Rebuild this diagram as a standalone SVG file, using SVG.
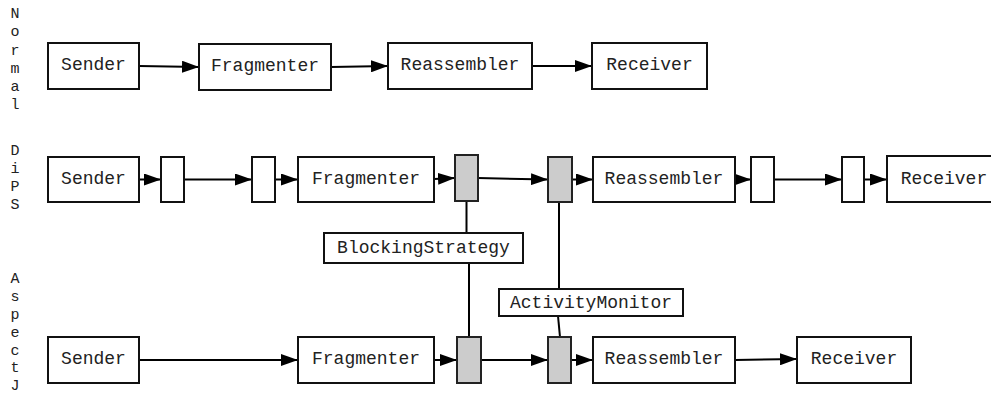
<svg xmlns="http://www.w3.org/2000/svg" width="991" height="394" viewBox="0 0 991 394">
<style>
  .box { fill: #ffffff; stroke: #111111; stroke-width: 2; }
  .gray { fill: #cccccc; stroke: #222222; stroke-width: 2; }
  .lbl { font-family: "Liberation Mono", "Courier New", monospace; font-size: 18px; fill: #222222; text-anchor: middle; }
  .side { font-family: "Liberation Mono", "Courier New", monospace; font-size: 15px; fill: #222222; text-anchor: middle; }
  .edge { stroke: #000000; stroke-width: 2; fill: none; }
  .arrow { marker-end: url(#ah); }
</style>
<defs>
  <marker id="ah" viewBox="0 0 17 12" refX="17" refY="6" markerWidth="17" markerHeight="12" markerUnits="userSpaceOnUse" orient="auto">
    <path d="M0,0 L17,6 L0,12 Z" fill="#000000"/>
  </marker>
</defs>
<rect width="991" height="394" fill="#ffffff"/>

<g id="side-labels">
  <text class="side" x="15" y="18">N</text>
  <text class="side" x="15" y="36">o</text>
  <text class="side" x="15" y="54.5">r</text>
  <text class="side" x="15" y="72.5">m</text>
  <text class="side" x="15" y="91">a</text>
  <text class="side" x="15" y="109">l</text>
  <text class="side" x="15" y="155">D</text>
  <text class="side" x="15" y="173">i</text>
  <text class="side" x="15" y="191">P</text>
  <text class="side" x="15" y="209">S</text>
  <text class="side" x="15" y="283">A</text>
  <text class="side" x="15" y="301">s</text>
  <text class="side" x="15" y="318.5">p</text>
  <text class="side" x="15" y="336.5">e</text>
  <text class="side" x="15" y="354.5">c</text>
  <text class="side" x="15" y="372">t</text>
  <text class="side" x="15" y="390">J</text>
</g>

<g id="connectors">
  <!-- Normal -->
  <line class="edge arrow" x1="139" y1="66" x2="199" y2="67"/>
  <line class="edge arrow" x1="331" y1="67" x2="388" y2="66"/>
  <line class="edge arrow" x1="532" y1="66" x2="592" y2="66"/>
  <!-- DiPS -->
  <line class="edge arrow" x1="139" y1="179.5" x2="161" y2="179.5"/>
  <line class="edge arrow" x1="184" y1="179.5" x2="252" y2="179.5"/>
  <line class="edge arrow" x1="275" y1="179.5" x2="298" y2="179.5"/>
  <line class="edge arrow" x1="434" y1="179" x2="455" y2="178"/>
  <line class="edge arrow" x1="478" y1="178" x2="548" y2="179.5"/>
  <line class="edge arrow" x1="572" y1="179.5" x2="593" y2="179.5"/>
  <line class="edge arrow" x1="735" y1="179.5" x2="751" y2="179.5"/>
  <line class="edge arrow" x1="774" y1="179.5" x2="842" y2="179.5"/>
  <line class="edge arrow" x1="864" y1="179.5" x2="887" y2="179.5"/>
  <!-- AspectJ -->
  <line class="edge arrow" x1="139" y1="360" x2="298" y2="360"/>
  <line class="edge arrow" x1="434" y1="360" x2="457" y2="360"/>
  <line class="edge arrow" x1="481" y1="360" x2="548" y2="360"/>
  <line class="edge arrow" x1="571" y1="360" x2="593" y2="360"/>
  <line class="edge arrow" x1="735" y1="360" x2="797" y2="359"/>
  <!-- vertical links -->
  <line class="edge" x1="466.5" y1="201" x2="466.5" y2="233"/>
  <line class="edge" x1="469" y1="263" x2="469" y2="337"/>
  <line class="edge" x1="559" y1="202" x2="559" y2="289"/>
  <line class="edge" x1="558" y1="316" x2="560" y2="337"/>
</g>

<!-- Row 1: Normal -->
<g id="n-sender"><rect class="box" x="48" y="43" width="91" height="46"/><text class="lbl" x="93.5" y="70">Sender</text></g>
<g id="n-fragmenter"><rect class="box" x="199" y="44" width="132" height="46"/><text class="lbl" x="265" y="71">Fragmenter</text></g>
<g id="n-reassembler"><rect class="box" x="388" y="43" width="144" height="46"/><text class="lbl" x="460" y="70">Reassembler</text></g>
<g id="n-receiver"><rect class="box" x="592" y="43" width="115" height="46"/><text class="lbl" x="649.5" y="70">Receiver</text></g>

<!-- Row 2: DiPS -->
<g id="d-sender"><rect class="box" x="48" y="157" width="91" height="45"/><text class="lbl" x="93.5" y="183.5">Sender</text></g>
<g id="d-small1"><rect class="box" x="161" y="157" width="23" height="45"/></g>
<g id="d-small2"><rect class="box" x="252" y="157" width="23" height="45"/></g>
<g id="d-fragmenter"><rect class="box" x="298" y="157" width="136" height="45"/><text class="lbl" x="366" y="183.5">Fragmenter</text></g>
<g id="d-gray1"><rect class="gray" x="455" y="155" width="23" height="46"/></g>
<g id="d-gray2"><rect class="gray" x="548" y="157" width="24" height="45"/></g>
<g id="d-reassembler"><rect class="box" x="593" y="157" width="142" height="45"/><text class="lbl" x="664" y="183.5">Reassembler</text></g>
<g id="d-small3"><rect class="box" x="751" y="157" width="23" height="45"/></g>
<g id="d-small4"><rect class="box" x="842" y="157" width="22" height="45"/></g>
<g id="d-receiver"><rect class="box" x="887" y="156" width="115" height="46"/><text class="lbl" x="944" y="183.5">Receiver</text></g>

<!-- Aspects -->
<g id="blocking-strategy"><rect class="box" x="324" y="233" width="199" height="30"/><text class="lbl" x="423.5" y="253">BlockingStrategy</text></g>
<g id="activity-monitor"><rect class="box" x="499" y="289" width="184" height="27"/><text class="lbl" x="591" y="308">ActivityMonitor</text></g>

<!-- Row 3: AspectJ -->
<g id="a-sender"><rect class="box" x="48" y="337" width="91" height="46"/><text class="lbl" x="93.5" y="364">Sender</text></g>
<g id="a-fragmenter"><rect class="box" x="298" y="337" width="136" height="46"/><text class="lbl" x="366" y="364">Fragmenter</text></g>
<g id="a-gray1"><rect class="gray" x="457" y="337" width="24" height="46"/></g>
<g id="a-gray2"><rect class="gray" x="548" y="337" width="23" height="46"/></g>
<g id="a-reassembler"><rect class="box" x="593" y="337" width="142" height="46"/><text class="lbl" x="664" y="364">Reassembler</text></g>
<g id="a-receiver"><rect class="box" x="797" y="337" width="114" height="46"/><text class="lbl" x="854" y="364">Receiver</text></g>
</svg>
